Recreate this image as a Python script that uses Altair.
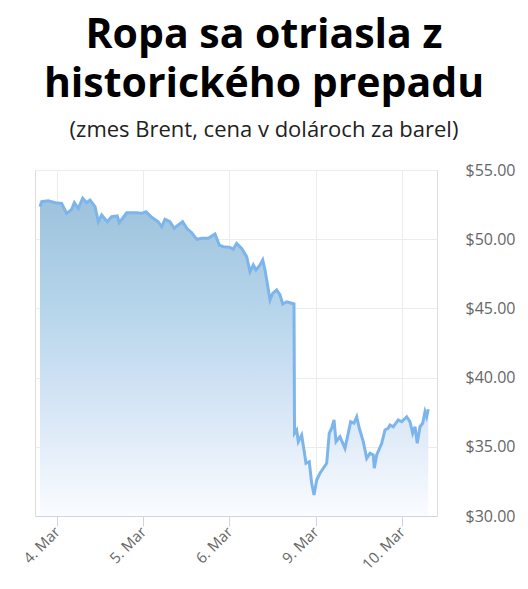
import altair as alt
import pandas as pd

# Trading time in fractional trading days since 4 Mar 00:00 (weekend skipped)
trading_day = [
    -0.197, -0.177, -0.101, -0.023, 0.054, 0.112, 0.170, 0.201, 0.247, 0.298,
    0.344, 0.383, 0.441, 0.479, 0.518, 0.583, 0.634, 0.699, 0.722, 0.808,
    0.924, 0.982, 1.032, 1.098, 1.174, 1.214, 1.252, 1.310, 1.357, 1.406,
    1.457, 1.504, 1.562, 1.620, 1.678, 1.754, 1.832, 1.882, 1.928, 2.006,
    2.044, 2.083, 2.141, 2.199, 2.238, 2.276, 2.307, 2.354, 2.385, 2.412,
    2.438, 2.470, 2.501, 2.547, 2.586, 2.617, 2.663, 2.721, 2.748, 2.754,
    2.779, 2.798, 2.837, 2.864, 2.887, 2.925, 2.953, 2.980, 3.011, 3.049,
    3.088, 3.127, 3.157, 3.185, 3.212, 3.235, 3.281, 3.339, 3.377, 3.405,
    3.443, 3.475, 3.505, 3.551, 3.591, 3.629, 3.667, 3.679, 3.707, 3.765,
    3.803, 3.841, 3.861, 3.899, 3.957, 3.997, 4.055, 4.093, 4.124, 4.151,
    4.177, 4.209, 4.240, 4.267, 4.286, 4.305,
]
brent_usd = [
    52.35, 52.71, 52.78, 52.64, 52.59, 51.87, 52.16, 52.64, 52.23, 52.96,
    52.64, 52.83, 52.35, 51.26, 51.75, 51.26, 51.63, 51.68, 51.19, 51.91,
    51.91, 51.87, 51.99, 51.58, 51.26, 50.90, 51.44, 51.26, 50.79, 51.03,
    51.26, 50.79, 50.47, 49.99, 50.07, 50.07, 50.38, 49.58, 49.46, 49.41,
    49.27, 49.70, 49.34, 48.74, 47.65, 48.14, 47.77, 48.14, 48.50, 47.77,
    46.81, 45.61, 46.09, 46.33, 45.97, 45.32, 45.48, 45.37, 45.32, 35.98,
    36.21, 35.37, 35.85, 34.77, 33.81, 33.92, 32.36, 31.52, 32.60, 33.09,
    33.45, 33.81, 35.98, 36.34, 36.94, 35.37, 35.73, 34.89, 35.98, 36.81,
    36.70, 37.17, 36.34, 35.37, 34.17, 34.53, 34.41, 33.45, 34.41, 35.25,
    36.21, 36.34, 36.58, 36.45, 36.94, 36.81, 37.17, 36.81, 35.98, 36.45,
    35.25, 36.45, 36.70, 37.54, 37.17, 37.71,
]
day_ticks = [0, 1, 2, 3, 4]
day_labels = ["4. Mar", "5. Mar", "6. Mar", "9. Mar", "10. Mar"]
price_ticks = [30, 35, 40, 45, 50, 55]

df = pd.DataFrame({"t": trading_day, "price": brent_usd})

label_expr = "[" + ",".join(f"'{l}'" for l in day_labels) + "][datum.value]"

FONT = "Open Sans"

x_enc = alt.X(
    "t:Q",
    scale=alt.Scale(domain=[-0.255, 4.406], nice=False, zero=False),
    axis=alt.Axis(
        values=day_ticks, labelExpr=label_expr, labelAngle=-45,
        labelAlign="right", labelBaseline="middle", tickSize=10,
        tickColor="#ccd6eb", domainColor="#ccd6eb", gridColor="#ececec",
        labelColor="#666666", labelFontSize=15, labelFont=FONT,
        labelPadding=3, title=None,
    ),
)
y_enc = alt.Y(
    "price:Q",
    scale=alt.Scale(domain=[30, 55], nice=False, zero=False),
    axis=alt.Axis(
        orient="right", values=price_ticks, format="$.2f", ticks=False,
        domain=False, labelPadding=28, labelColor="#666666",
        labelFontSize=16, labelFont=FONT, gridColor="#ececec", title=None,
    ),
)

gradient = alt.Gradient(
    gradient="linear",
    stops=[
        alt.GradientStop(color="#9dc2dc", offset=0),
        alt.GradientStop(color="#b6d5eb", offset=0.35),
        alt.GradientStop(color="#dbe8f7", offset=0.7),
        alt.GradientStop(color="#fafcff", offset=1),
    ],
    x1=1, x2=1, y1=0, y2=1,
)

base = alt.Chart(df)
area = base.mark_area(fill=gradient).encode(x=x_enc, y=y_enc, y2=alt.datum(30))
line = base.mark_line(color="#7cb5ec", strokeWidth=3).encode(x=x_enc, y=y_enc)

chart = (
    alt.layer(area, line)
    .properties(
        width=402,
        height=346,
        autosize="none",
        padding={"left": 27, "top": 162, "right": 79, "bottom": 60},
        title=alt.TitleParams(
            text=["Ropa sa otriasla z", "historického prepadu"],
            subtitle="(zmes Brent, cena v dolároch za barel)",
            font=FONT, fontSize=41, fontWeight="bold", color="#000000",
            lineHeight=49, subtitleFont=FONT, subtitleFontSize=22,
            subtitleColor="#222222", subtitlePadding=14,
            anchor="middle", dx=28, offset=20,
        ),
    )
    .configure_view(stroke=None)
    .configure(background="white")
)

chart.save("out.html", embed_options={"renderer": "svg", "actions": False})
